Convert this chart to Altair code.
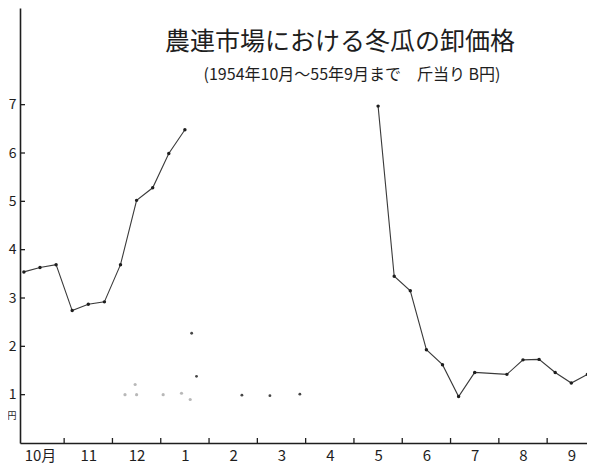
import altair as alt
import pandas as pd

# month labels along the x axis (Oct 1954 .. Sep 1955)
month_labels = ["10月", "11", "12", "1", "2", "3", "4", "5", "6", "7", "8", "9"]

# wholesale price (B円 per 斤) for each 旬 (上旬, 中旬, 下旬) of each month; None = no quote
prices = [
    [3.54, 3.63, 3.69],   # 10月
    [2.74, 2.87, 2.92],   # 11
    [3.69, 5.02, 5.28],   # 12
    [5.99, 6.48, None],   # 1
    [None, None, None],   # 2
    [None, None, None],   # 3
    [None, None, None],   # 4
    [None, 6.97, 3.45],   # 5
    [3.15, 1.93, 1.62],   # 6
    [0.96, 1.46, None],   # 7
    [1.42, 1.72, 1.73],   # 8
    [1.46, 1.24, 1.42],   # 9
]
season_break_month = 6  # line is broken between January and May

# stray pencil dots in the lower middle of the sheet
dot_x = [3.14, 3.24, 4.18, 4.76, 5.38]
dot_y = [2.27, 1.38, 0.99, 0.98, 1.01]
smudge_x = [1.76, 1.97, 2.00, 2.55, 2.93, 3.11]
smudge_y = [1.00, 1.21, 1.00, 1.00, 1.03, 0.90]

y_ticks = [1, 2, 3, 4, 5, 6, 7]
month_bounds = [i + 0.5 for i in range(11)]

title_text = "農連市場における冬瓜の卸価格"
subtitle_text = "(1954年10月～55年9月まで　斤当り B円)"

rows = []
for mi, vals in enumerate(prices):
    for d, v in enumerate(vals):
        if v is not None:
            rows.append({"x": mi + (d - 1) / 3, "price": v,
                         "seg": 0 if mi < season_break_month else 1})
df = pd.DataFrame(rows)
dots = pd.DataFrame({"x": dot_x, "price": dot_y})
smudges = pd.DataFrame({"x": smudge_x, "price": smudge_y})
ticks_y = pd.DataFrame({"price": y_ticks})
bounds = pd.DataFrame({"x": month_bounds})

label_js = "[" + ",".join("'%s'" % m for m in month_labels) + "]"
xscale = alt.Scale(domain=[-0.414, 11.325], nice=False, zero=False)
yscale = alt.Scale(domain=[0, 9], nice=False)
ink = "#1e1e1e"
font = "Noto Sans CJK JP"

xenc = alt.X("x:Q", scale=xscale, axis=alt.Axis(
    values=list(range(12)), labelExpr=label_js + "[datum.value]",
    ticks=False, grid=False, title=None, domainColor=ink, domainWidth=1.6,
    labelFont=font, labelFontSize=15, labelColor=ink, labelPadding=5,
    labelBaseline="top"))
yenc = alt.Y("price:Q", scale=yscale, axis=alt.Axis(
    values=y_ticks, ticks=False, grid=False, title=None, domainColor=ink,
    domainWidth=1.6, labelFont=font, labelFontSize=14, labelColor=ink,
    labelPadding=4))

line = alt.Chart(df).mark_line(color="#3a3a3a", strokeWidth=1.1).encode(
    x=xenc, y=yenc, detail="seg:N")
pts = alt.Chart(df).mark_circle(color=ink, size=12, opacity=1, clip=False).encode(
    x="x:Q", y="price:Q")
dot_layer = alt.Chart(dots).mark_circle(color="#333333", size=8, opacity=0.9).encode(
    x="x:Q", y="price:Q")
smudge_layer = alt.Chart(smudges).mark_circle(color="#888888", size=10, opacity=0.6).encode(
    x="x:Q", y="price:Q")
ytick_layer = alt.Chart(ticks_y).mark_rule(color=ink, strokeWidth=1.3).encode(
    y="price:Q", x=alt.value(0), x2=alt.value(5))
xtick_layer = alt.Chart(bounds).mark_rule(color=ink, strokeWidth=1.3).encode(
    x="x:Q", y=alt.value(430), y2=alt.value(435))
yen_label = alt.Chart(pd.DataFrame({"t": ["円"]})).mark_text(
    font=font, fontSize=9, color=ink, align="center", baseline="top").encode(
    text="t:N", x=alt.value(-8), y=alt.value(404))
title_layer = alt.Chart(pd.DataFrame({"t": [title_text]})).mark_text(
    font=font, fontSize=25, color=ink, align="center", baseline="middle").encode(
    text="t:N", x=alt.value(320), y=alt.value(34))
subtitle_layer = alt.Chart(pd.DataFrame({"t": [subtitle_text]})).mark_text(
    font=font, fontSize=16, color=ink, align="center", baseline="middle").encode(
    text="t:N", x=alt.value(332), y=alt.value(67))

chart = alt.layer(
    line, pts, dot_layer, smudge_layer, ytick_layer, xtick_layer,
    yen_label, title_layer, subtitle_layer
).properties(
    width=567, height=435,
    autosize=alt.AutoSizeParams(type="none"),
    padding={"left": 12, "top": 0, "right": 0, "bottom": 24},
    background="white",
).configure_view(stroke=None)

chart.save("out.html", embed_options={"renderer": "svg", "actions": False})
